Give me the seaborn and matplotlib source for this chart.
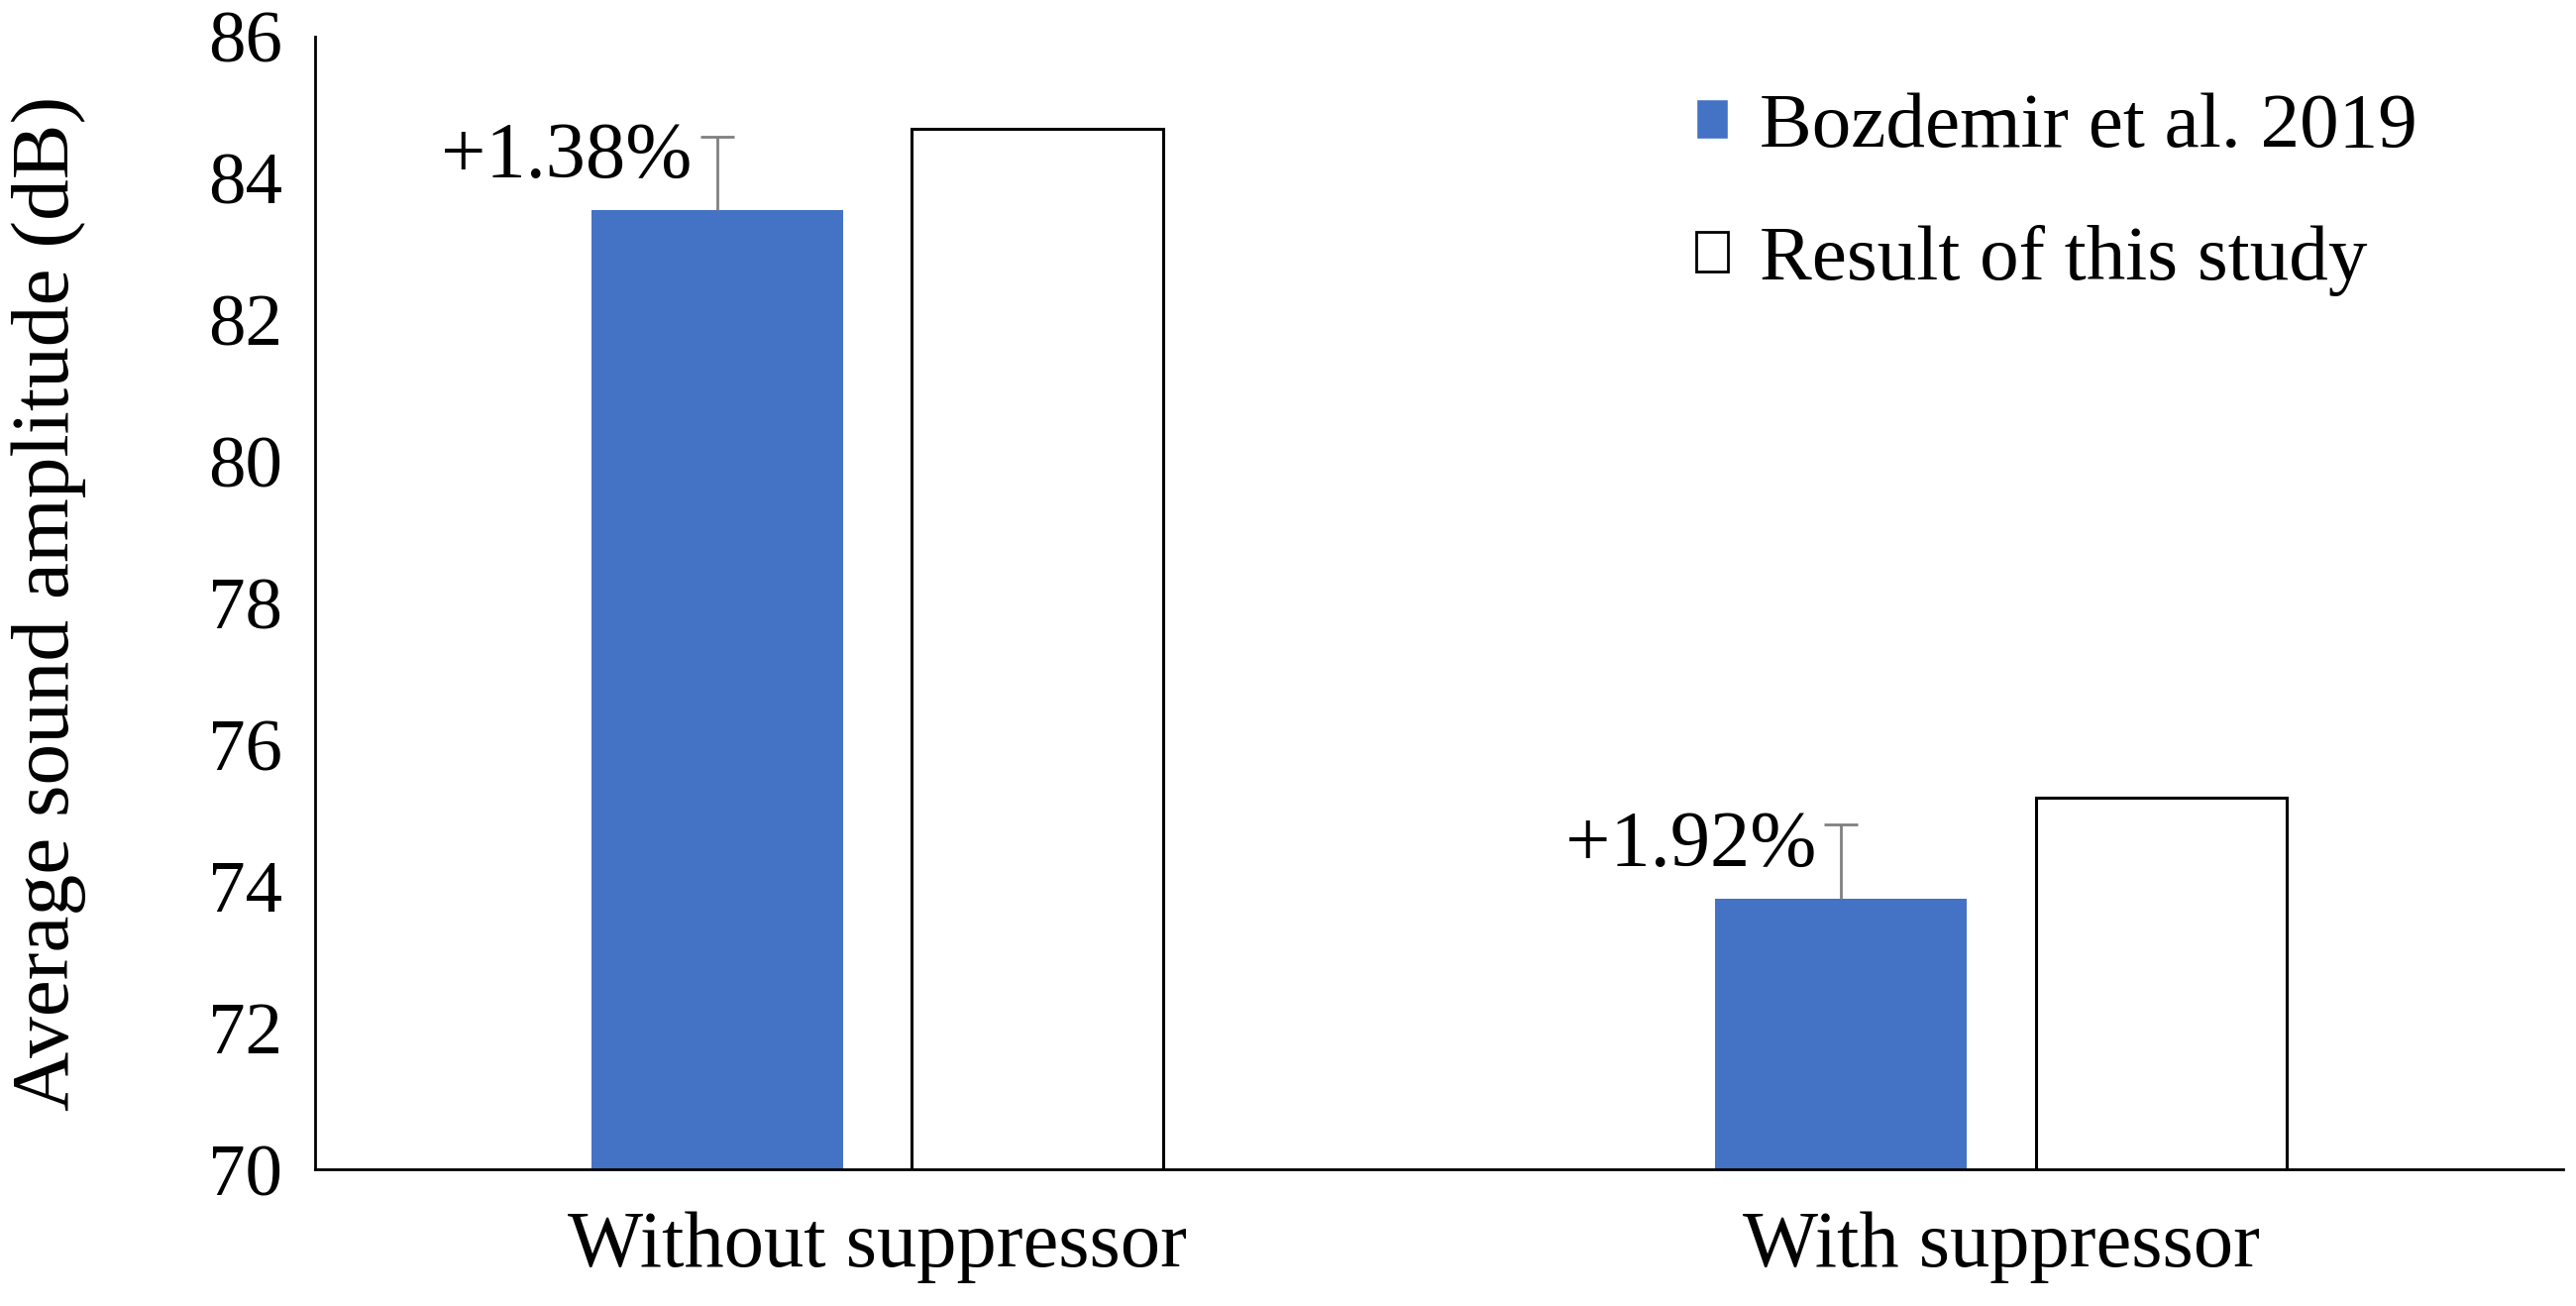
import pandas as pd
import numpy as np
import matplotlib
matplotlib.use('Agg')
import matplotlib.pyplot as plt
import seaborn as sns

sns.set_theme(style='white')
plt.rcParams['font.family'] = ['Liberation Serif', 'DejaVu Serif']
plt.rcParams['text.color'] = 'black'
plt.rcParams['axes.labelcolor'] = 'black'
plt.rcParams['xtick.color'] = 'black'
plt.rcParams['ytick.color'] = 'black'

# data
conditions = ['Without suppressor', 'With suppressor']
series = ['Bozdemir et al. 2019', 'Result of this study']
bozdemir = [83.55, 73.83]
this_study = [84.70, 75.25]
err_up = [1.04, 1.05]
diff_labels = ['+1.38%', '+1.92%']
yticks = [70, 72, 74, 76, 78, 80, 82, 84, 86]

df = pd.DataFrame({
    'condition': conditions * 2,
    'source': [series[0]] * 2 + [series[1]] * 2,
    'amplitude': bozdemir + this_study,
})

fig = plt.figure(figsize=(26, 13.18), dpi=100)
ax = fig.add_axes([0.1224, 0.1044, 0.8726, 0.8676])

sns.barplot(data=df, x='condition', y='amplitude', hue='source',
            palette=['#4472C4', 'white'], saturation=1, width=0.57, gap=0.215,
            errorbar=None, ax=ax)

# outline the white bars
for p in ax.containers[1]:
    p.set_edgecolor('black')
    p.set_linewidth(2.2)
for p in ax.containers[0]:
    p.set_edgecolor('none')

# plus-only error bars and the percent labels on the blue bars
xs = [p.get_x() + p.get_width() / 2 for p in ax.containers[0]]
eb = ax.errorbar(xs, bozdemir, yerr=[[0, 0], err_up], fmt='none',
                 ecolor='#808080', elinewidth=2, capsize=12, capthick=2, zorder=3)
for cl in eb[1]:
    if np.allclose(cl.get_ydata(), bozdemir):
        cl.set_visible(False)
for x, y, t in zip(xs, bozdemir, diff_labels):
    ax.text(x - 0.022, y + 0.46, t, ha='right', va='baseline', fontsize=58)

ax.set_ylim(70, 86)
ax.set_yticks(yticks)
ax.set_xlim(-0.5, 1.5)
ax.set_xlabel('')
ax.set_ylabel('Average sound amplitude (dB)', fontsize=60)
ax.yaxis.set_label_coords(-0.102, 0.5)
ax.tick_params(axis='y', labelsize=54, length=0, pad=24)
ax.tick_params(axis='x', labelsize=58, length=0, pad=30)

sns.despine(ax=ax)
for s in ['left', 'bottom']:
    ax.spines[s].set_color('black')
    ax.spines[s].set_linewidth(2)

leg = ax.legend(loc='upper left', bbox_to_anchor=(0.597, 0.985), frameon=False,
                fontsize=57, handlelength=0.4, handleheight=0.4,
                handletextpad=0.4, labelspacing=0.78, borderpad=0)
leg.legend_handles[1].set_edgecolor('black')
leg.legend_handles[1].set_linewidth(2)

fig.savefig('out.png', dpi=100)
